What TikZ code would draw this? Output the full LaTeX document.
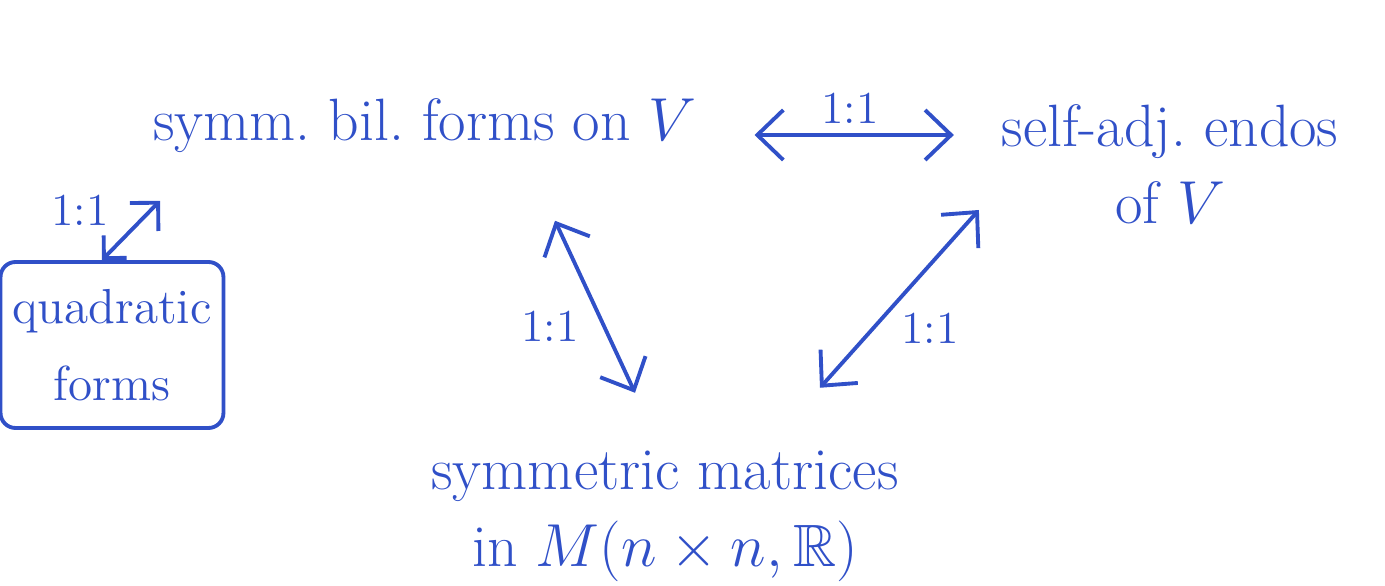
\documentclass[tikz,border=0pt]{standalone}
\usepackage{amssymb}
\usetikzlibrary{arrows.meta}
\definecolor{inkblue}{HTML}{3050C8}

\begin{document}
\begin{tikzpicture}[x=1cm,y=1cm,>={Straight Barb[length=2.6mm,width=5mm]},font=\fontsize{17}{22}\selectfont]
  \tikzstyle{space}=[text=inkblue, align=center, inner sep=2pt]
  \tikzstyle{boxed}=[draw=inkblue, line width=1.1pt, rounded corners=1.5mm, text=inkblue, align=center,
    font=\fontsize{14}{22}\selectfont]
  \tikzstyle{both}=[<->, line width=1.1pt, draw=inkblue]
  \tikzstyle{small}=[{Straight Barb[length=1.6mm,width=3.2mm]}-{Straight Barb[length=2mm,width=4mm]}, line width=1.1pt, draw=inkblue]
  \tikzstyle{label}=[text=inkblue, font=\fontsize{13}{16}\selectfont, inner sep=1pt]

  \path[use as bounding box] (0,0) rectangle (13.85,5.86);

  \node[space] (bil) at (4.25,4.60) {symm.\ bil.\ forms on $V$};
  \node[space] (endo) at (11.70,4.22) {self-adj.\ endos\\of $V$};
  \node[space] (mat) at (6.65,0.70) {symmetric matrices\\in $M(n\times n,\mathbb{R})$};
  \node[boxed, minimum width=2.13cm, minimum height=1.66cm] (quad) at (1.12,2.41) {quadratic\\forms};

  \draw[both] ([xshift=5mm]bil.east |- 0,4.51) -- ([xshift=-4mm]endo.west |- 0,4.51);
  \node[label] at (8.50,4.78) {1:1};

  \draw[both] ([xshift=13mm,yshift=-6mm]bil.south) -- ([xshift=-3mm,yshift=5mm]mat.north);
  \node[label] at (5.50,2.60) {1:1};

  \draw[both] ([xshift=-1.5mm,yshift=-4.6mm]endo.west) -- ([xshift=15.5mm,yshift=5.5mm]mat.north);
  \node[label] at (9.30,2.58) {1:1};

  \draw[small] ([xshift=-1mm]quad.north) -- ([xshift=-2.65cm,yshift=-4mm]bil.south);
  \node[label] at (0.80,3.76) {1:1};
\end{tikzpicture}
\end{document}
